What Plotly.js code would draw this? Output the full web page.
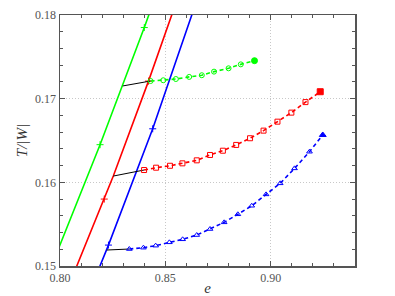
<!DOCTYPE html>
<html>
<head>
<meta charset="utf-8">
<script src="https://cdn.plot.ly/plotly-3.0.1.min.js"></script>
<style>html,body{margin:0;padding:0;background:#fff;}#chart{width:395px;height:296px;}</style>
</head>
<body>
<div id="chart"></div>
<script>
// Solid curves
const greenSolidE = [0.7990, 0.8190, 0.8400, 0.8430];
const greenSolidT = [0.1519, 0.1645, 0.1785, 0.1806];
const redSolidE = [0.8070, 0.8210, 0.8253, 0.8420, 0.8540];
const redSolidT = [0.1494, 0.1580, 0.16075, 0.1721, 0.1807];
const blueSolidE = [0.8180, 0.8230, 0.8440, 0.8635];
const blueSolidT = [0.1494, 0.1525, 0.1664, 0.1807];
// Markers on solid curves
const greenMarkE = [0.819, 0.840];
const greenMarkT = [0.1645, 0.1785];
const redMarkE = [0.821, 0.842];
const redMarkT = [0.1580, 0.1721];
const blueMarkE = [0.823, 0.844];
const blueMarkT = [0.1525, 0.1664];
// Dashed sequences
const greenDashE = [0.8430, 0.8490, 0.8550, 0.8613, 0.8673, 0.8731, 0.8800, 0.8858, 0.8923];
const greenDashT = [0.17211, 0.17220, 0.17235, 0.17260, 0.17280, 0.17323, 0.17363, 0.17410, 0.17454];
const redDashE = [0.8399, 0.8456, 0.8522, 0.8581, 0.8649, 0.8712, 0.8773, 0.8836, 0.8902, 0.8966, 0.9032, 0.9098, 0.9165, 0.9235];
const redDashT = [0.16147, 0.16175, 0.16198, 0.16227, 0.16263, 0.16327, 0.16378, 0.16447, 0.16527, 0.16618, 0.16725, 0.16833, 0.16959, 0.17083];
const blueDashE = [0.8329, 0.8396, 0.8454, 0.8519, 0.8582, 0.8649, 0.8712, 0.8779, 0.8844, 0.8910, 0.8978, 0.9045, 0.9113, 0.9184, 0.9247];
const blueDashT = [0.15203, 0.15219, 0.15243, 0.15283, 0.15319, 0.15370, 0.15442, 0.15522, 0.15618, 0.15720, 0.15856, 0.15988, 0.16167, 0.16366, 0.16566];
// Connectors
const greenConnE = [0.8298, 0.8430];
const greenConnT = [0.17152, 0.17211];
const redConnE = [0.8253, 0.8399];
const redConnT = [0.16075, 0.16147];
const blueConnE = [0.8222, 0.8329];
const blueConnT = [0.15191, 0.15203];

const G = '#00ff00', R = '#ff0000', B = '#0000ff';
const traces = [];
function solid(x, y, c) { traces.push({x, y, mode: 'lines', line: {color: c, width: 1.6}, hoverinfo: 'skip'}); }
function marks(x, y, c) { traces.push({x, y, mode: 'markers', marker: {symbol: 'cross-thin', size: 5, line: {color: c, width: 1}}, hoverinfo: 'skip'}); }
function dashed(x, y, c, sym) {
  const n = x.length;
  traces.push({x, y, mode: 'lines', line: {color: c, width: 1.6, dash: '4px,3px'}, hoverinfo: 'skip'});
  traces.push({x: x.slice(0, n - 1), y: y.slice(0, n - 1), mode: 'markers',
    marker: {symbol: sym + '-open', size: 5, color: c, line: {color: c, width: 1}}, hoverinfo: 'skip'});
  traces.push({x: [x[n - 1]], y: [y[n - 1]], mode: 'markers',
    marker: {symbol: sym, size: 6, color: c, line: {color: c, width: 1}}, hoverinfo: 'skip'});
}
function conn(x, y) { traces.push({x, y, mode: 'lines', line: {color: '#000', width: 1}, hoverinfo: 'skip'}); }

solid(greenSolidE, greenSolidT, G);
solid(redSolidE, redSolidT, R);
solid(blueSolidE, blueSolidT, B);
marks(greenMarkE, greenMarkT, G);
marks(redMarkE, redMarkT, R);
marks(blueMarkE, blueMarkT, B);
conn(greenConnE, greenConnT);
conn(redConnE, redConnT);
conn(blueConnE, blueConnT);
dashed(greenDashE, greenDashT, G, 'circle');
dashed(redDashE, redDashT, R, 'square');
dashed(blueDashE, blueDashT, B, 'triangle-up');

const tickFont = {family: 'Liberation Serif, DejaVu Serif, serif', size: 12, color: '#555'};
const layout = {
  width: 395, height: 296,
  margin: {l: 60, r: 40, t: 15, b: 30},
  paper_bgcolor: '#fff', plot_bgcolor: '#fff',
  showlegend: false,
  xaxis: {
    range: [0.80, 0.94], dtick: 0.05, tick0: 0.80, tickformat: '.2f',
    ticks: 'inside', ticklen: 5, tickcolor: '#555', tickwidth: 1,
    showline: true, linecolor: '#555', linewidth: 1.5, mirror: 'allticks',
    showgrid: true, gridcolor: '#c8c8c8', griddash: '1px,2px', gridwidth: 1,
    zeroline: false, tickfont: tickFont,
    minor: {dtick: 0.01, ticks: 'inside', ticklen: 3, tickcolor: '#555', showgrid: false},
    title: {text: 'e', font: {family: 'Liberation Serif, serif', size: 15, color: '#333', style: 'italic'}, standoff: 6}
  },
  yaxis: {
    range: [0.15, 0.18], dtick: 0.01, tick0: 0.15, tickformat: '.2f',
    ticks: 'inside', ticklen: 5, tickcolor: '#555', tickwidth: 1,
    showline: true, linecolor: '#555', linewidth: 1.5, mirror: 'allticks',
    showgrid: true, gridcolor: '#c8c8c8', griddash: '1px,2px', gridwidth: 1,
    zeroline: false, tickfont: tickFont,
    minor: {dtick: 0.002, ticks: 'inside', ticklen: 3, tickcolor: '#555', showgrid: false},
    title: {text: 'T/|W|', font: {family: 'Liberation Serif, serif', size: 15, color: '#333', style: 'italic'}, standoff: 4}
  }
};
Plotly.newPlot('chart', traces, layout, {staticPlot: true, displayModeBar: false});
</script>
</body>
</html>
